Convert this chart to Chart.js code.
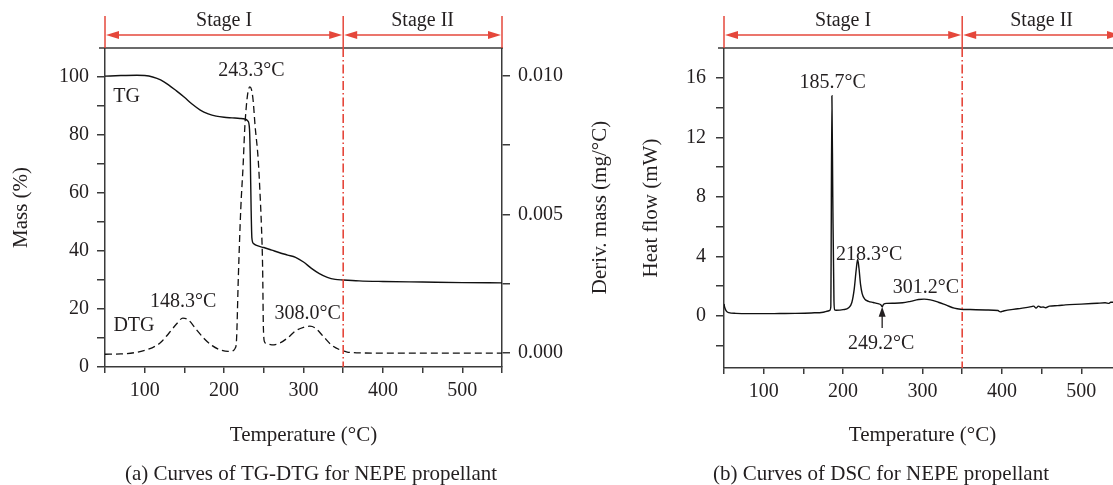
<!DOCTYPE html>
<html>
<head>
<meta charset="utf-8">
<script src="https://cdn.jsdelivr.net/npm/chart.js@4.4.0/dist/chart.umd.min.js"></script>
<style>
  html, body { margin: 0; padding: 0; background: #fff; overflow: hidden; width: 1113px; height: 485px; }
  canvas { position: absolute; top: 0; }
  #tgChart { left: 0; }
  #dscChart { left: 620px; }
</style>
</head>
<body>
<canvas id="tgChart" width="620" height="485"></canvas>
<canvas id="dscChart" width="510" height="485"></canvas>
<script>
// TG curve (temperature °C, mass %)
const tgTemp = [50, 70, 90, 100, 110, 120, 130, 140, 150, 160, 170, 180, 190, 200, 210, 220, 226, 230, 232, 233, 234, 235, 237, 240, 250, 260, 270, 280, 290, 300, 310, 320, 330, 340, 350, 370, 400, 450, 500, 550];
const tgMass = [100.3, 100.5, 100.6, 100.5, 100.0, 99.0, 97.3, 95.2, 93.0, 90.6, 88.6, 87.3, 86.5, 86.1, 85.9, 85.7, 85.5, 84.8, 82.0, 72.0, 55.0, 44.5, 42.6, 42.0, 41.2, 40.3, 39.4, 38.6, 37.8, 36.2, 34.0, 32.2, 30.9, 30.2, 30.0, 29.7, 29.5, 29.3, 29.1, 29.0];

// DTG curve (temperature °C, mg/°C)
const dtgTemp = [50, 70, 90, 100, 110, 120, 130, 140, 148, 155, 165, 175, 185, 195, 205, 212, 214, 215.5, 218, 221, 224, 226, 228, 230, 232.4, 234.5, 236.6, 239, 242.9, 245, 247, 248.5, 249.5, 251, 254, 260, 270, 280, 290, 300, 308, 315, 325, 335, 345, 355, 370, 400, 450, 500, 550];
const dtgRate = [-0.00004, -0.00003, 0.00003, 0.0001, 0.0002, 0.00038, 0.0007, 0.00105, 0.00126, 0.0012, 0.00085, 0.00052, 0.00027, 0.00012, 0.00006, 0.0001, 0.00018, 0.0004, 0.0028, 0.0052, 0.0068, 0.0081, 0.0089, 0.0094, 0.0096, 0.0095, 0.0091, 0.0082, 0.007, 0.0059, 0.0046, 0.0031, 0.0009, 0.0004, 0.00034, 0.0003, 0.00036, 0.00055, 0.0008, 0.00093, 0.00097, 0.0009, 0.0006, 0.0003, 0.00013, 0.00004, 0.00001, 0, 0, 0, 0];

// DSC curve (temperature °C, heat flow mW)
const dscTemp = [50, 51, 53, 56, 65, 80, 100, 120, 140, 160, 175, 181, 183, 184.5, 185.9, 187, 188.5, 189.5, 191, 200, 207, 211, 214, 216.5, 218.3, 220, 222, 224, 227, 232, 238, 244, 247.5, 249.2, 251, 255, 265, 275, 285, 295, 302, 310, 320, 330, 340, 348, 360, 380, 395, 398, 402, 420, 437, 440, 443, 446, 449, 452, 455, 460, 470, 480, 500, 520, 530, 535, 537, 545, 550];
const dscFlow = [0.8, 0.55, 0.32, 0.22, 0.17, 0.15, 0.15, 0.16, 0.17, 0.2, 0.25, 0.33, 0.36, 0.6, 14.8, 8.0, 1.0, 0.4, 0.38, 0.42, 0.55, 0.9, 1.8, 3.1, 3.8, 3.2, 2.1, 1.5, 1.15, 0.98, 0.9, 0.82, 0.75, 0.62, 0.78, 0.84, 0.85, 0.88, 0.98, 1.1, 1.13, 1.08, 0.92, 0.72, 0.52, 0.45, 0.43, 0.4, 0.36, 0.27, 0.33, 0.48, 0.62, 0.66, 0.52, 0.66, 0.58, 0.6, 0.55, 0.66, 0.69, 0.74, 0.79, 0.85, 0.88, 0.84, 0.92, 0.92, 0.95];

// Tick values
const tempTicks = [50, 100, 150, 200, 250, 300, 350, 400, 450, 500, 550];
const massTicks = [0, 10, 20, 30, 40, 50, 60, 70, 80, 90, 100];
const derivTicks = [0, 0.0025, 0.005, 0.0075, 0.01];
const heatTicks = [-2, 0, 2, 4, 6, 8, 10, 12, 14, 16];

// Stage boundaries (°C)
const stageBounds = [50, 350, 550];
const stageNames = ['Stage I', 'Stage II'];

// Peak labels, anchored at text centre in data units
const tgNotes = [
    { text: 'TG', x: 77.3, y: 93.7 },
    { text: '243.3°C', x: 234.5, y: 102.6 },
    { text: 'DTG', x: 86.5, y: 14.7 },
    { text: '148.3°C', x: 148.5, y: 23 },
    { text: '308.0°C', x: 305.1, y: 19 }
];
const dscNotes = [
    { text: '185.7°C', x: 186.8, y: 15.8 },
    { text: '218.3°C', x: 232.9, y: 4.2 },
    { text: '301.2°C', x: 304.3, y: 2.0 },
    { text: '249.2°C', x: 248, y: -1.78 }
];

const INK = '#231f20';
const AXIS = '#3a3a3a';
const RED = '#e5473b';
const FONT = '"Liberation Serif", "Times New Roman", serif';

const stagePlugin = {
    id: 'stages',
    afterDraw(chart, args, opts) {
        const ctx = chart.ctx;
        const xs = chart.scales.x;
        const ys = chart.scales.y;
        const area = chart.chartArea;
        ctx.save();

        // top frame line
        ctx.strokeStyle = AXIS;
        ctx.lineWidth = 1.5;
        ctx.beginPath();
        ctx.moveTo(area.left - 6, area.top);
        ctx.lineTo(area.right + 1, area.top);
        ctx.stroke();

        // stage boundaries and arrows
        const px = stageBounds.map(t => xs.getPixelForValue(t));
        ctx.strokeStyle = RED;
        ctx.fillStyle = RED;
        ctx.lineWidth = 1.5;
        px.forEach(p => {
            ctx.beginPath();
            ctx.moveTo(p, 16);
            ctx.lineTo(p, area.top);
            ctx.stroke();
        });
        const ay = 35;
        for (let i = 0; i < px.length - 1; i++) {
            const a = px[i] + 1, b = px[i + 1] - 1;
            ctx.beginPath();
            ctx.moveTo(a + 6, ay);
            ctx.lineTo(b - 6, ay);
            ctx.stroke();
            ctx.beginPath();
            ctx.moveTo(a, ay);
            ctx.lineTo(a + 13, ay - 4);
            ctx.lineTo(a + 13, ay + 4);
            ctx.closePath();
            ctx.fill();
            ctx.beginPath();
            ctx.moveTo(b, ay);
            ctx.lineTo(b - 13, ay - 4);
            ctx.lineTo(b - 13, ay + 4);
            ctx.closePath();
            ctx.fill();
            ctx.fillStyle = INK;
            ctx.font = '20px ' + FONT;
            ctx.textAlign = 'center';
            ctx.textBaseline = 'alphabetic';
            ctx.fillText(stageNames[i], (px[i] + px[i + 1]) / 2, 26);
            ctx.fillStyle = RED;
        }

        // dash-dot boundary inside the plot
        ctx.save();
        ctx.beginPath();
        ctx.rect(area.left, area.top, area.right - area.left, area.bottom - area.top);
        ctx.clip();
        ctx.setLineDash([9, 3, 1.5, 3]);
        ctx.lineWidth = 1.6;
        ctx.beginPath();
        ctx.moveTo(px[1], area.top);
        ctx.lineTo(px[1], area.bottom);
        ctx.stroke();
        ctx.restore();

        // peak labels
        ctx.fillStyle = INK;
        ctx.font = '20px ' + FONT;
        ctx.textAlign = 'center';
        ctx.textBaseline = 'alphabetic';
        (opts.notes || []).forEach(n => {
            ctx.fillText(n.text, xs.getPixelForValue(n.x), ys.getPixelForValue(n.y) + 7);
        });

        // pointer arrow
        if (opts.marker) {
            const mx = xs.getPixelForValue(opts.marker.x);
            const tip = ys.getPixelForValue(opts.marker.tip);
            const tail = ys.getPixelForValue(opts.marker.tail);
            ctx.strokeStyle = INK;
            ctx.lineWidth = 1.3;
            ctx.beginPath();
            ctx.moveTo(mx, tail);
            ctx.lineTo(mx, tip + 8);
            ctx.stroke();
            ctx.beginPath();
            ctx.moveTo(mx, tip);
            ctx.lineTo(mx - 3.5, tip + 10);
            ctx.lineTo(mx + 3.5, tip + 10);
            ctx.closePath();
            ctx.fill();
        }

        // right-hand axis title, reading bottom to top
        if (opts.rightTitle) {
            ctx.save();
            ctx.font = '21px ' + FONT;
            ctx.textBaseline = 'middle';
            ctx.translate(opts.rightTitle.x, (area.top + area.bottom) / 2);
            ctx.rotate(-Math.PI / 2);
            ctx.fillText(opts.rightTitle.text, 0, 0);
            ctx.restore();
        }

        // caption
        ctx.font = '21px ' + FONT;
        ctx.textBaseline = 'alphabetic';
        ctx.fillText(opts.caption, opts.captionX, 480);
        ctx.restore();
    }
};

function fixedTicks(values) {
    return scale => { scale.ticks = values.map(v => ({ value: v })); };
}

function axisStyle(tickLength) {
    return {
        grid: { drawOnChartArea: false, drawTicks: true, tickLength: tickLength, color: AXIS, lineWidth: 1.5 },
        border: { display: true, color: AXIS, width: 1.5 }
    };
}

const tickFont = { family: FONT, size: 20 };
const titleFont = { family: FONT, size: 21 };

// TG-DTG chart
new Chart(document.getElementById('tgChart'), {
    type: 'line',
    data: {
        datasets: [{
            label: 'TG',
            data: tgTemp.map((t, i) => ({ x: t, y: tgMass[i] })),
            yAxisID: 'y',
            borderColor: '#111',
            borderWidth: 1.4,
            pointRadius: 0,
            cubicInterpolationMode: 'monotone'
        }, {
            label: 'DTG',
            data: dtgTemp.map((t, i) => ({ x: t, y: dtgRate[i] })),
            yAxisID: 'y2',
            borderColor: '#111',
            borderWidth: 1.3,
            borderDash: [7, 4],
            pointRadius: 0,
            cubicInterpolationMode: 'monotone'
        }]
    },
    options: {
        responsive: false,
        animation: false,
        layout: { padding: { top: 48, left: 0, right: 0, bottom: 0 } },
        plugins: {
            legend: { display: false },
            tooltip: { enabled: false },
            stages: {
                notes: tgNotes,
                rightTitle: { text: 'Deriv. mass (mg/°C)', x: 600 },
                caption: '(a) Curves of TG-DTG for NEPE propellant', captionX: 311
            }
        },
        scales: {
            x: {
                type: 'linear', min: 50, max: 550,
                afterBuildTicks: fixedTicks(tempTicks),
                afterFit: s => { s.height = 118; },
                ticks: { autoSkip: false, maxRotation: 0, padding: 6, color: INK, font: tickFont,
                    callback: v => (v % 100 === 0 ? String(v) : '') },
                ...axisStyle(6),
                title: { display: true, text: 'Temperature (°C)', color: INK, font: titleFont, padding: { top: 0, bottom: 37 } }
            },
            y: {
                position: 'left', min: 0, max: 110,
                afterBuildTicks: fixedTicks(massTicks),
                afterFit: s => { s.width = 105; },
                ticks: { autoSkip: false, padding: 8, color: INK, font: tickFont,
                    callback: v => (v % 20 === 0 ? String(v) : '') },
                ...axisStyle(8),
                title: { display: true, text: 'Mass (%)', color: INK, font: titleFont, padding: { top: 9, bottom: 0 } }
            },
            y2: {
                position: 'right', min: -0.0005, max: 0.011,
                afterBuildTicks: fixedTicks(derivTicks),
                afterFit: s => { s.width = 118; },
                ticks: { autoSkip: false, padding: 8, color: INK, font: tickFont,
                    callback: v => (Math.abs(v / 0.005 - Math.round(v / 0.005)) < 1e-6 ? v.toFixed(3) : '') },
                ...axisStyle(8),
                title: { display: false }
            }
        }
    },
    plugins: [stagePlugin]
});

// DSC chart
new Chart(document.getElementById('dscChart'), {
    type: 'line',
    data: {
        datasets: [{
            label: 'DSC',
            data: dscTemp.map((t, i) => ({ x: t, y: dscFlow[i] })),
            borderColor: '#111',
            borderWidth: 1.4,
            pointRadius: 0,
            cubicInterpolationMode: 'monotone'
        }]
    },
    options: {
        responsive: false,
        animation: false,
        layout: { padding: { top: 48, left: 0, right: 9, bottom: 0 } },
        plugins: {
            legend: { display: false },
            tooltip: { enabled: false },
            stages: {
                notes: dscNotes,
                marker: { x: 249.2, tip: 0.62, tail: -0.82 },
                caption: '(b) Curves of DSC for NEPE propellant', captionX: 261
            }
        },
        scales: {
            x: {
                type: 'linear', min: 50, max: 550,
                afterBuildTicks: fixedTicks(tempTicks),
                afterFit: s => { s.height = 117; },
                ticks: { autoSkip: false, maxRotation: 0, padding: 6, color: INK, font: tickFont,
                    callback: v => (v % 100 === 0 ? String(v) : '') },
                ...axisStyle(6),
                title: { display: true, text: 'Temperature (°C)', color: INK, font: titleFont, padding: { top: 0, bottom: 37 } }
            },
            y: {
                position: 'left', min: -3.5, max: 18,
                afterBuildTicks: fixedTicks(heatTicks),
                afterFit: s => { s.width = 104; },
                ticks: { autoSkip: false, padding: 10, color: INK, font: tickFont,
                    callback: v => (v % 4 === 0 ? String(v) : '') },
                ...axisStyle(8),
                title: { display: true, text: 'Heat flow (mW)', color: INK, font: titleFont, padding: { top: 19, bottom: 0 } }
            }
        }
    },
    plugins: [stagePlugin]
});
</script>
</body>
</html>
